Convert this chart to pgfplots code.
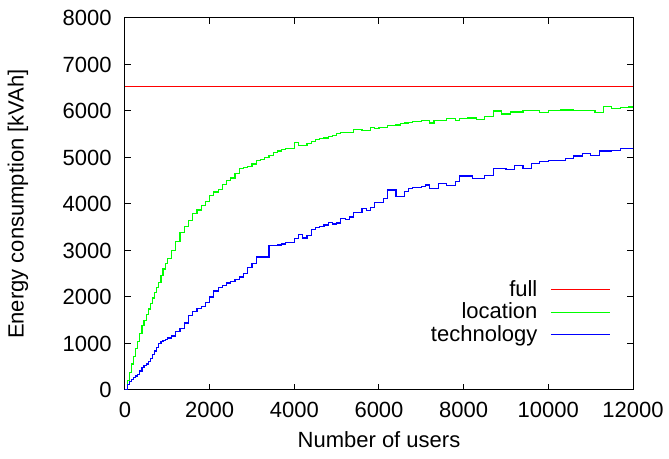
\documentclass[border=0pt]{standalone}
\usepackage{fontspec}
\setmainfont{Liberation Sans}
\usepackage{pgfplots}
\pgfplotsset{compat=1.18}

\pgfplotstableread{
x y
0 0
50 200
100 380
150 560
200 720
250 890
300 1050
350 1220
400 1380
450 1500
500 1620
550 1740
600 1860
650 1980
700 2100
750 2210
800 2320
850 2460
900 2600
950 2720
1000 2830
1100 3000
1200 3200
1300 3380
1400 3520
1500 3650
1600 3790
1700 3870
1800 3970
1900 4060
2000 4190
2100 4260
2200 4320
2300 4420
2400 4510
2500 4560
2600 4660
2700 4760
2800 4790
2900 4800
3000 4860
3100 4930
3200 4960
3300 5000
3400 5050
3500 5100
3600 5140
3700 5180
3800 5190
3900 5200
4000 5320
4100 5250
4200 5260
4300 5300
4400 5340
4500 5380
4600 5400
4700 5420
4800 5460
4900 5480
5000 5510
5100 5540
5400 5610
5600 5580
5800 5640
5900 5630
6000 5640
6200 5680
6300 5690
6400 5700
6500 5730
6600 5740
6700 5750
6800 5770
6900 5780
7000 5790
7100 5800
7200 5740
7300 5790
7400 5800
7600 5830
7800 5790
7900 5830
8100 5850
8300 5820
8500 5880
8700 6000
8900 5935
9100 5978
9400 6007
9800 5971
10000 6007
10300 6022
10600 6007
11100 5971
11300 6093
11500 6050
11700 6071
11900 6086
12000 6086
}\location

\pgfplotstableread{
x y
0 0
50 110
100 180
150 230
200 270
250 300
300 340
350 410
400 480
450 520
500 560
550 620
600 680
650 760
700 840
750 920
800 1000
850 1040
900 1060
950 1090
1000 1120
1100 1160
1200 1250
1300 1330
1400 1440
1500 1600
1600 1680
1700 1750
1800 1790
1900 1890
2000 2000
2100 2130
2200 2200
2300 2250
2400 2300
2500 2330
2600 2370
2700 2430
2800 2510
2900 2640
3000 2720
3100 2860
3400 3110
3600 3120
3700 3140
3800 3170
4000 3250
4100 3340
4200 3270
4300 3330
4400 3450
4500 3500
4600 3520
4700 3550
4800 3600
4900 3570
5000 3590
5100 3690
5200 3660
5300 3720
5400 3810
5600 3900
5700 3860
5800 3930
5900 4030
6000 4040
6100 4120
6200 4300
6400 4160
6600 4270
6700 4330
6800 4350
7000 4370
7100 4410
7200 4340
7400 4440
7600 4390
7800 4480
7900 4600
8200 4550
8500 4620
8700 4770
9000 4750
9200 4820
9400 4760
9600 4870
9800 4910
10000 4940
10400 4970
10600 5030
10800 5090
11000 5050
11200 5140
11500 5150
11700 5200
12000 5210
}\technology

\begin{document}
\begin{tikzpicture}
\begin{axis}[
  scale only axis,
  width=254pt, height=186pt,
  xmin=0, xmax=12000,
  ymin=0, ymax=8000,
  xtick={0,2000,...,12000},
  ytick={0,1000,...,8000},
  scaled ticks=false,
  tick align=inside,
  major tick length=3pt,
  tick style={black, line width=0.5pt},
  axis line style={line width=0.5pt},
  font=\fontsize{11}{13}\selectfont,
  /pgf/number format/assume math mode=true,
  /pgf/number format/1000 sep={},
  xticklabel style={inner sep=0pt, yshift=-6pt},
  yticklabel style={inner sep=0pt, xshift=-6.5pt},
  xlabel={Number of users},
  ylabel={Energy consumption [kVAh]},
  x label style={at={(axis description cs:0.5,-0.1344)}, anchor=center},
  y label style={at={(axis description cs:-0.2106,0.5)}, anchor=center},
  legend plot pos=right,
  legend cell align=right,
  legend image code/.code={\draw[#1] (0pt,0pt) -- (29.5pt,0pt);},
  legend style={draw=none, fill=none, inner sep=0pt,
    at={(axis cs:11480,2455)}, anchor=north east,
    row sep=-2.25pt, font=\fontsize{11}{13}\selectfont,
    /tikz/every odd column/.style={column sep=4.5pt}},
]
\addplot[red, line width=0.6pt] coordinates {(0,6520) (12000,6520)};
\addlegendentry{full}
\addplot[green, line width=0.6pt, const plot] table[x=x,y=y] {\location};
\addlegendentry{location}
\addplot[blue, line width=0.6pt, const plot] table[x=x,y=y] {\technology};
\addlegendentry{technology}
\end{axis}
\path (current axis.south west) ++(-62.5pt,-34.5pt) rectangle ++(334.5pt,229.5pt);
\end{tikzpicture}
\end{document}
